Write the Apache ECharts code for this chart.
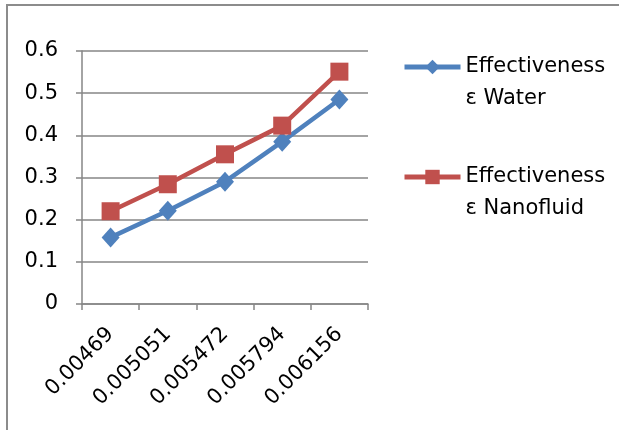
<!DOCTYPE html>
<html><head><meta charset="utf-8">
<script src="https://cdn.jsdelivr.net/npm/echarts@6/dist/echarts.min.js"></script>
<style>html,body{margin:0;padding:0;background:#fff}#c{width:619px;height:430px}</style>
</head><body><div id="c"></div>
<script>
const categories = ['0.00469', '0.005051', '0.005472', '0.005794', '0.006156'];
const waterValues = [0.158, 0.221, 0.290, 0.385, 0.485];
const nanofluidValues = [0.220, 0.284, 0.355, 0.423, 0.551];
const seriesNames = ['Effectiveness\nε Water', 'Effectiveness\nε Nanofluid'];
const yTicks = { min: 0, max: 0.6, interval: 0.1 };

const FONT = 'DejaVu Sans';
const chart = echarts.init(document.getElementById('c'), null, { renderer: 'canvas' });
chart.setOption({
  backgroundColor: '#fff',
  animation: false,
  graphic: [
    { type: 'polyline', shape: { points: [[7, 430], [7, 5], [619, 5]] }, style: { stroke: '#8c8c8c', lineWidth: 2, fill: null } }
  ],
  grid: { left: 82, right: 251, top: 51, bottom: 126 },
  legend: {
    orient: 'vertical', left: 402, top: 19, padding: 0,
    itemWidth: 56, itemHeight: 18, itemGap: 14,
    data: seriesNames,
    formatter: name => '\n' + name,
    lineStyle: { width: 5 },
    textStyle: { fontFamily: FONT, fontSize: 21, color: '#000', lineHeight: 32 }
  },
  xAxis: {
    type: 'category', data: categories, boundaryGap: true,
    axisLine: { lineStyle: { color: '#868686', width: 1.5 } },
    axisTick: { show: true, length: 6, lineStyle: { color: '#868686', width: 1.5 } },
    axisLabel: { rotate: 45, margin: 27, fontFamily: FONT, fontSize: 21, color: '#000' }
  },
  yAxis: {
    type: 'value', min: yTicks.min, max: yTicks.max, interval: yTicks.interval,
    axisLine: { show: true, lineStyle: { color: '#868686', width: 1.5 } },
    axisTick: { show: true, length: 6, lineStyle: { color: '#868686', width: 1.5 } },
    splitLine: { lineStyle: { color: '#868686', width: 1.5 } },
    axisLabel: { margin: 24, fontFamily: FONT, fontSize: 21, color: '#000', formatter: v => String(+v.toFixed(1)) }
  },
  series: [
    { name: seriesNames[0], type: 'line', data: waterValues, symbol: 'diamond', symbolSize: [18, 20],
      lineStyle: { color: '#4F81BD', width: 4.5 }, itemStyle: { color: '#4F81BD' } },
    { name: seriesNames[1], type: 'line', data: nanofluidValues, symbol: 'rect', symbolSize: 18,
      lineStyle: { color: '#C0504D', width: 4.5 }, itemStyle: { color: '#C0504D' } }
  ]
});
</script></body></html>
